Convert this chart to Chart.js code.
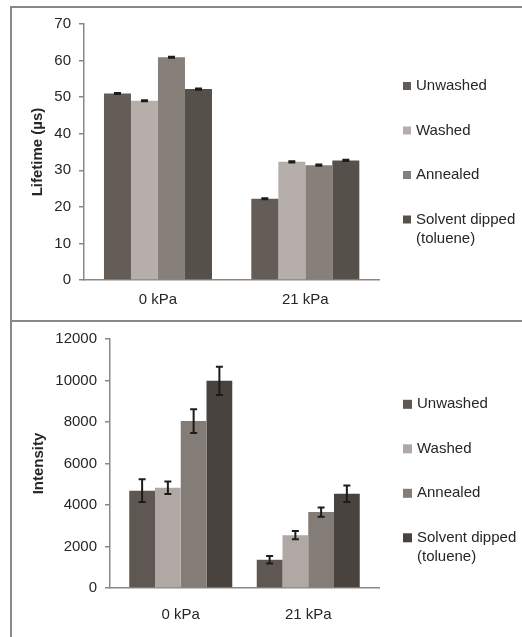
<!DOCTYPE html>
<html>
<head>
<meta charset="utf-8">
<script src="https://cdn.jsdelivr.net/npm/chart.js@4.4.1/dist/chart.umd.min.js"></script>
<style>
  body { margin: 0; background: #fff; }
  #wrap { position: relative; width: 522px; height: 637px; overflow: hidden; }
  .frame { position: absolute; left: 10px; top: 6px; width: 600px; height: 700px;
           border-left: 2px solid #8d8782; border-top: 2px solid #8d8782; }
  .sep { position: absolute; left: 10px; top: 320px; width: 600px; height: 2px; background: #8d8782; }
  canvas { position: absolute; left: 0; }
</style>
</head>
<body>
<div id="wrap">
  <div class="frame"></div>
  <div class="sep"></div>
  <canvas id="lifetimeChart" width="522" height="320" style="top:0"></canvas>
  <canvas id="intensityChart" width="522" height="315" style="top:322px"></canvas>
</div>
<script>
// categorias y series
const categories = ['0 kPa', '21 kPa'];
const seriesNames = ['Unwashed', 'Washed', 'Annealed', ['Solvent dipped', '(toluene)']];

// Lifetime (µs)
const lifetimeUnwashed = [51.0, 22.2];
const lifetimeWashed = [49.0, 32.3];
const lifetimeAnnealed = [60.9, 31.4];
const lifetimeSolvent = [52.2, 32.7];
const lifetimeErrUnwashed = [0.15, 0.15];
const lifetimeErrWashed = [0.15, 0.15];
const lifetimeErrAnnealed = [0.15, 0.15];
const lifetimeErrSolvent = [0.15, 0.15];
const lifetimeTicks = [0, 10, 20, 30, 40, 50, 60, 70];

// Intensity
const intensityUnwashed = [4690, 1360];
const intensityWashed = [4830, 2545];
const intensityAnnealed = [8045, 3660];
const intensitySolvent = [9985, 4540];
const intensityErrUnwashed = [550, 180];
const intensityErrWashed = [300, 200];
const intensityErrAnnealed = [575, 225];
const intensityErrSolvent = [680, 400];
const intensityTicks = [0, 2000, 4000, 6000, 8000, 10000, 12000];

const axisGray = '#8d8782';
const textColor = '#262626';

Chart.defaults.font.family = "'Liberation Sans', Arial, sans-serif";
Chart.defaults.font.size = 15;
Chart.defaults.color = textColor;

// barras de error
const errorBars = {
    id: 'errorBars',
    afterDatasetsDraw(chart) {
        const ctx = chart.ctx;
        const yScale = chart.scales.y;
        ctx.save();
        ctx.strokeStyle = '#1c1c1c';
        ctx.lineWidth = 2;
        chart.data.datasets.forEach((ds, i) => {
            const meta = chart.getDatasetMeta(i);
            meta.data.forEach((bar, j) => {
                const v = ds.data[j].y, e = ds.errors[j];
                const yTop = yScale.getPixelForValue(v + e);
                const yBot = yScale.getPixelForValue(v - e);
                ctx.beginPath();
                ctx.moveTo(bar.x, yTop); ctx.lineTo(bar.x, yBot);
                ctx.moveTo(bar.x - 3.5, yTop); ctx.lineTo(bar.x + 3.5, yTop);
                ctx.moveTo(bar.x - 3.5, yBot); ctx.lineTo(bar.x + 3.5, yBot);
                ctx.stroke();
            });
        });
        ctx.restore();
    }
};

// leyenda lateral
const sideLegend = {
    id: 'sideLegend',
    afterDraw(chart, args, opts) {
        const ctx = chart.ctx;
        ctx.save();
        ctx.font = "15px 'Liberation Sans', Arial, sans-serif";
        ctx.textBaseline = 'middle';
        chart.data.datasets.forEach((ds, i) => {
            const y = opts.top + i * opts.gap;
            ctx.fillStyle = ds.backgroundColor;
            ctx.fillRect(opts.x, y - opts.box / 2, opts.box, opts.box);
            ctx.fillStyle = textColor;
            const lines = Array.isArray(ds.label) ? ds.label : [ds.label];
            lines.forEach((t, k) => ctx.fillText(t, opts.x + opts.box + 5, y + k * 19));
        });
        ctx.restore();
    }
};

const makeChart = (id, values, errs, ticks, colors, title, cfg) => {
    return new Chart(document.getElementById(id), {
        type: 'bar',
        data: {
            datasets: values.map((vals, i) => ({
                label: seriesNames[i],
                data: vals.map((v, j) => ({ x: j, y: v })),
                errors: errs[i],
                backgroundColor: colors[i],
                barPercentage: 1,
                categoryPercentage: cfg.catPct
            }))
        },
        options: {
            responsive: false,
            animation: false,
            layout: { padding: cfg.padding },
            plugins: {
                legend: { display: false },
                tooltip: { enabled: false },
                sideLegend: cfg.legend
            },
            scales: {
                x: {
                    type: 'linear',
                    offset: false,
                    min: cfg.xMin,
                    max: cfg.xMax,
                    grid: { display: false },
                    border: { display: true, color: axisGray, width: 1.5 },
                    ticks: { padding: cfg.xPad, autoSkip: false, callback: v => categories[v] },
                    afterBuildTicks: s => { s.ticks = categories.map((c, j) => ({ value: j })); },
                    afterFit: s => { s.height = cfg.xHeight; }
                },
                y: {
                    min: ticks[0],
                    max: ticks[ticks.length - 1],
                    ticks: { stepSize: ticks[1] - ticks[0], padding: 8, callback: v => String(v) },
                    grid: { drawOnChartArea: false, tickLength: 5, color: axisGray, lineWidth: 1.5 },
                    border: { display: true, color: axisGray, width: 1.5 },
                    title: { display: true, text: title, font: { weight: 'bold', size: 15 }, padding: { top: cfg.titlePad, bottom: 0 } },
                    afterFit: s => { s.width = cfg.yWidth; }
                }
            }
        },
        plugins: [errorBars, sideLegend]
    });
};

makeChart('lifetimeChart',
    [lifetimeUnwashed, lifetimeWashed, lifetimeAnnealed, lifetimeSolvent],
    [lifetimeErrUnwashed, lifetimeErrWashed, lifetimeErrAnnealed, lifetimeErrSolvent],
    lifetimeTicks,
    ['#645c57', '#b5aeaa', '#867f7a', '#56504b'],
    'Lifetime (µs)',
    { catPct: 0.733, xMin: -0.502, xMax: 1.5, padding: { left: 20, right: 143, top: 24, bottom: 0 }, xHeight: 40, yWidth: 64, xPad: 3, titlePad: 9,
      legend: { x: 403, top: 86, gap: 44.5, box: 8 } });

makeChart('intensityChart',
    [intensityUnwashed, intensityWashed, intensityAnnealed, intensitySolvent],
    [intensityErrUnwashed, intensityErrWashed, intensityErrAnnealed, intensityErrSolvent],
    intensityTicks,
    ['#5f5752', '#b0a8a4', '#847c77', '#48433e'],
    'Intensity',
    { catPct: 0.808, xMin: -0.555, xMax: 1.555, padding: { left: 20, right: 143, top: 16, bottom: 0 }, xHeight: 49, yWidth: 90, xPad: 10, titlePad: 10,
      legend: { x: 403, top: 82.3, gap: 44.5, box: 9 } });
</script>
</body>
</html>
